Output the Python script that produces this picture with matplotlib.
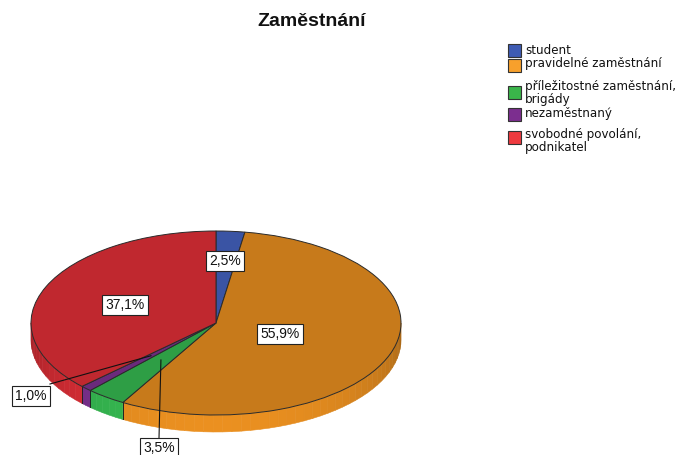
import numpy as np
import matplotlib
matplotlib.use("Agg")
import matplotlib.pyplot as plt
from matplotlib.patches import Wedge, Polygon, Rectangle
from matplotlib.transforms import Affine2D
from matplotlib.colors import to_rgb

# data
categories = ["student", "pravidelné zaměstnání", "příležitostné zaměstnání,\nbrigády",
              "nezaměstnaný", "svobodné povolání,\npodnikatel"]
percent = [2.5, 55.9, 3.5, 1.0, 37.1]
labels = [f"{v:.1f}".replace(".", ",") + "%" for v in percent]

top_colors = ["#3A54A4", "#C77A1B", "#2E9E45", "#6B2A7C", "#C0282F"]
legend_colors = ["#3E5BB3", "#F7A02C", "#3AB54A", "#7C2E8F", "#EE3A3F"]

# layout (pixels)
W, H = 679, 455
cx, cy, rx, ry, depth = 216, 323, 185, 92, 17
label_xy = [(225, 261), (280, 334), (159, 448), (31, 396), (125, 305)]
leader = [None, None, "up", "right", None]
leg_square_y = [50, 65, 92, 114, 137]
leg_text_y = [50, 64, 93, 114, 141]   # centre of each text block

fig = plt.figure(figsize=(W / 100, H / 100), dpi=100)
ax = fig.add_axes([0, 0, 1, 1])
ax.set_xlim(0, W)
ax.set_ylim(H, 0)
ax.axis("off")

unit = Affine2D().scale(rx, -ry).translate(cx, cy) + ax.transData

cum = np.concatenate([[0], np.cumsum(percent)]) / 100.0
starts = 90 - 360 * cum[:-1]
ends = 90 - 360 * cum[1:]
mids = (starts + ends) / 2


def pt(a, r=1.0, dy=0):
    t = np.radians(a)
    return cx + rx * r * np.cos(t), cy - ry * r * np.sin(t) + dy


# side of the pie (front half only)
for i in range(len(percent)):
    lo = max(ends[i], -180)
    hi = min(starts[i], 0)
    if lo >= hi:
        continue
    base = np.array(to_rgb(top_colors[i]))
    ang = np.linspace(lo, hi, max(2, int((hi - lo) / 3) + 2))
    for a0, a1 in zip(ang[:-1], ang[1:]):
        am = np.radians((a0 + a1) / 2)
        f = 0.85 + 0.33 * (-np.sin(am))
        col = np.clip(base * f, 0, 1)
        p0, p1 = pt(a0), pt(a1)
        q1, q0 = pt(a1, dy=depth), pt(a0, dy=depth)
        ax.add_patch(Polygon([p0, p1, q1, q0], closed=True, facecolor=col,
                             edgecolor=col, lw=0.4, zorder=1))

# visible slice borders on the side
for a in ends[:-1]:
    if -180 < a < 0:
        x0, y0 = pt(a)
        ax.plot([x0, x0], [y0, y0 + depth], color="#222222", lw=0.7, zorder=2)

# top face
for i in range(len(percent)):
    w = Wedge((0, 0), 1, ends[i], starts[i], transform=unit,
              facecolor=top_colors[i], edgecolor="#2a2a2a", lw=0.7, zorder=3)
    ax.add_patch(w)

# labels
for i, lab in enumerate(labels):
    lx, ly = label_xy[i]
    if leader[i] is not None:
        ax_, ay_ = pt(mids[i], 0.5)
        if leader[i] == "up":
            ax.plot([lx, ax_], [ly - 10, ay_], color="#111111", lw=0.8, zorder=4)
        else:
            ax.plot([lx + 19, ax_], [ly - 12, ay_], color="#111111", lw=0.8, zorder=4)
    ax.text(lx, ly, lab, ha="center", va="center", fontsize=10,
            family="Liberation Sans", color="#111111", zorder=5,
            bbox=dict(boxstyle="square,pad=0.25", fc="white", ec="#222222", lw=0.8))

# title
ax.text(312, 22, "Zaměstnání", ha="center", va="center", fontsize=14,
        fontweight="bold", family="Liberation Sans", color="#111111")

# legend
for i, cat in enumerate(categories):
    ax.add_patch(Rectangle((508, leg_square_y[i] - 6.5), 13, 13,
                           facecolor=legend_colors[i], edgecolor="#333333", lw=0.8))
    ax.text(525, leg_text_y[i], cat, ha="left", va="center", linespacing=0.92,
            fontsize=8.6, family="DejaVu Sans", color="#111111")

fig.savefig("out.png", dpi=100)
